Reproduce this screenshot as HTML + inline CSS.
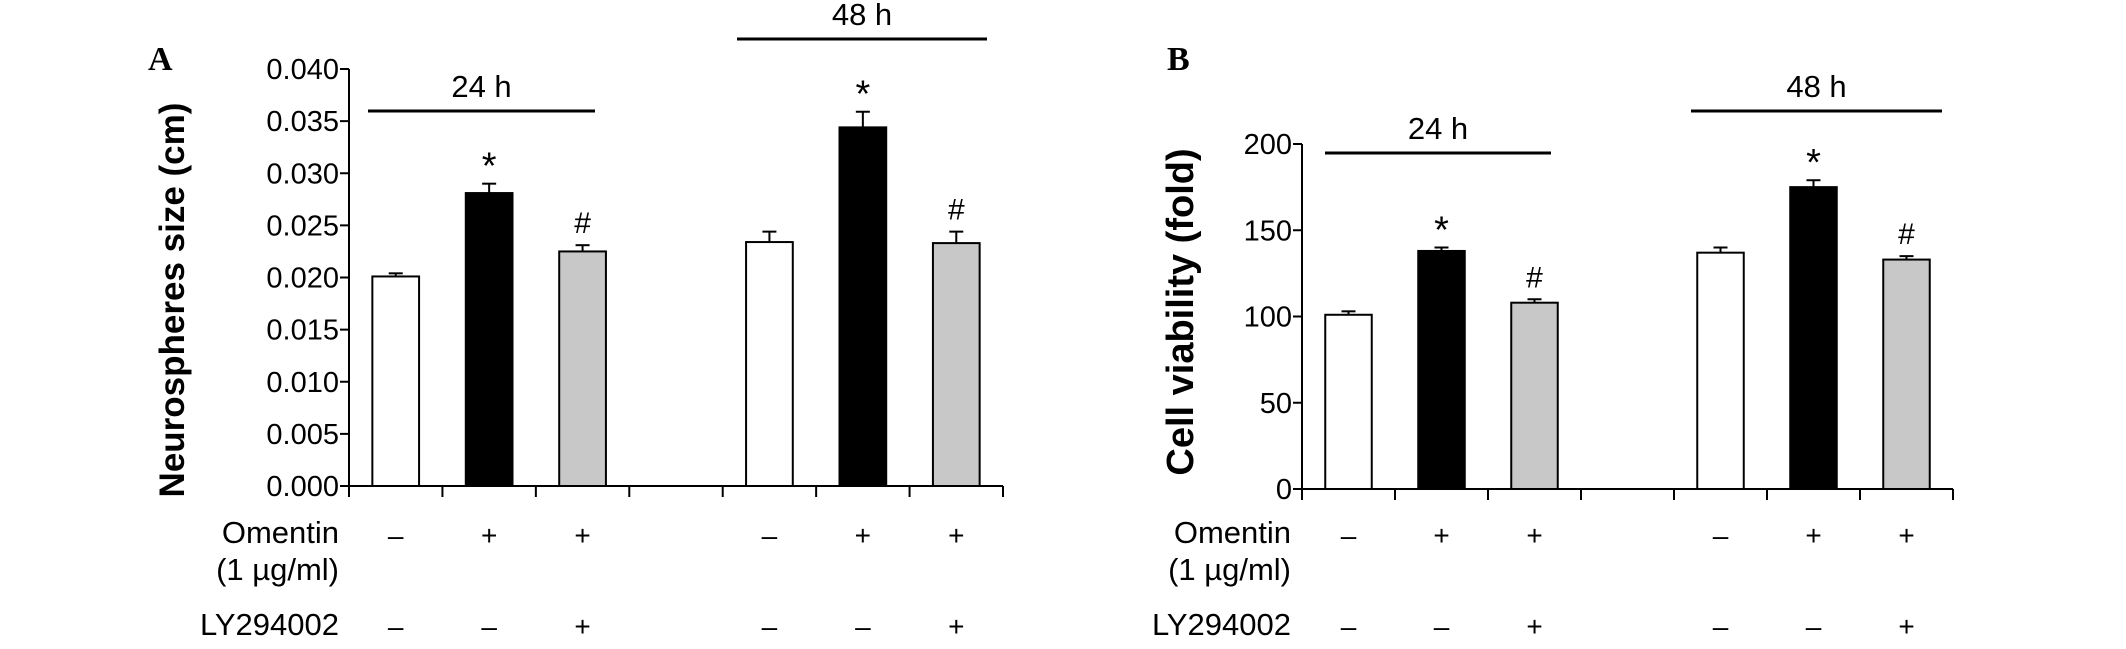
<!DOCTYPE html>
<html><head><meta charset="utf-8"><style>
html,body{margin:0;padding:0;background:#fff;}
svg{display:block;font-family:"Liberation Sans",Arial,sans-serif;}
</style></head><body>
<svg id="fig" width="2126" height="649" viewBox="0 0 2126 649" xmlns="http://www.w3.org/2000/svg"></svg>
<script>
const categories = ["24h-control","24h-omentin","24h-omentin-ly","gap","48h-control","48h-omentin","48h-omentin-ly"];
const valuesA = [0.0201,0.0281,0.0225,null,0.0234,0.0344,0.0233];
const errorsA = [0.0003,0.0009,0.0006,null,0.0010,0.0015,0.0011];
const valuesB = [101,138,108,null,137,175,133];
const errorsB = [2,2,2,null,3,4,2];
const ticksA = [0,0.005,0.010,0.015,0.020,0.025,0.030,0.035,0.040];
const tickLabelsA = ["0.000","0.005","0.010","0.015","0.020","0.025","0.030","0.035","0.040"];
const ticksB = [0,50,100,150,200];
const tickLabelsB = ["0","50","100","150","200"];
const marks = ["","*","#","","","*","#"];
const omentinSigns = ["\u2013","+","+","","\u2013","+","+"];
const lySigns = ["\u2013","\u2013","+","","\u2013","\u2013","+"];
const fills = ["#fff","#000","#c8c8c8",null,"#fff","#000","#c8c8c8"];

const NS="http://www.w3.org/2000/svg";
const svg=document.getElementById('fig');
function mk(tag,attrs,parent){const e=document.createElementNS(NS,tag);for(const k in attrs)e.setAttribute(k,attrs[k]);(parent||svg).appendChild(e);return e;}

function panel(p){
  const g=mk('g',{});
  
  
  const slot=(p.x1-p.x0)/categories.length;
  const xc=i=>p.x0+slot*(i+0.5);
  const y=v=>p.yBase-(v-p.ymin)/(p.ymax-p.ymin)*(p.yBase-p.yTop);
  const L=mk('text',{x:p.letterX,y:70,'font-family':'"Liberation Serif",serif','font-weight':'bold','font-size':34},g);
  L.textContent=p.letter;
  
  
  const T=mk('text',{x:0,y:0,transform:`translate(${p.titleX},${p.titleY}) rotate(-90)`,'text-anchor':'middle','font-weight':'bold','font-size':p.titleSize},g);
  T.textContent=p.title;
  
  
  const ya=mk('line',{x1:p.x0,x2:p.x0,y1:y(p.ymax),y2:p.yBase,stroke:'#000','stroke-width':2},g);
  
  
  p.ticks.forEach((t,i)=>{
    const tl=mk('line',{x1:p.x0-9,x2:p.x0,y1:y(t),y2:y(t),stroke:'#000','stroke-width':2},g);
    
    
    const tx=mk('text',{x:p.x0-10,y:y(t)+10,'text-anchor':'end','font-size':29},g);
    tx.textContent=p.tickLabels[i];
    
    
  });
  const xa=mk('line',{x1:p.x0,x2:p.x1,y1:p.yBase,y2:p.yBase,stroke:'#000','stroke-width':2},g);
  
  
  for(let i=0;i<=categories.length;i++){
    const xt=mk('line',{x1:p.x0+slot*i,x2:p.x0+slot*i,y1:p.yBase,y2:p.yBase+11,stroke:'#000','stroke-width':2},g);
    
    
  }
  const bw=slot*0.5;
  categories.forEach((c,i)=>{
    const v=p.values[i];
    const lab1=mk('text',{x:xc(i),y:545,'text-anchor':'middle','font-size':28},g);
    lab1.textContent=omentinSigns[i];
    
    
    const lab2=mk('text',{x:xc(i),y:636,'text-anchor':'middle','font-size':28},g);
    lab2.textContent=lySigns[i];
    
    
    if(v===null)return;
    const e=p.errors[i];
    const el=mk('line',{x1:xc(i),x2:xc(i),y1:y(v),y2:y(v+e),stroke:'#000','stroke-width':2},g);
    
    
    const ec=mk('line',{x1:xc(i)-7,x2:xc(i)+7,y1:y(v+e),y2:y(v+e),stroke:'#000','stroke-width':2},g);
    
    
    const r=mk('rect',{x:xc(i)-bw/2,y:y(v),width:bw,height:p.yBase-y(v),fill:fills[i],stroke:'#000','stroke-width':2},g);
    
    
    if(marks[i]){
      const m=mk('text',{x:xc(i),y:y(v+e)-(marks[i]==='*'?5:12),'text-anchor':'middle','font-size':marks[i]==='*'?38:30},g);
      m.textContent=marks[i];
      
      
    }
  });
  p.headers.forEach(h=>{
    const hl=mk('line',{x1:h.x1,x2:h.x2,y1:h.y,y2:h.y,stroke:'#000','stroke-width':3},g);
    
    
    const ht=mk('text',{x:(h.x1+h.x2)/2,y:h.y-14,'text-anchor':'middle','font-size':31},g);
    ht.textContent=h.label;
    
    
  });
  [["Omentin",543],["(1 \u00b5g/ml)",580],["LY294002",635]].forEach(([t,yy])=>{
    const rl=mk('text',{x:p.rowX,y:yy,'text-anchor':'end','font-size':31},g);
    rl.textContent=t;
    
    
  });
}

panel({name:'panel-a',letter:'A',letterX:148,title:'Neurospheres size (cm)',titleX:184,titleY:300,titleSize:35,
  x0:349,x1:1003,yBase:486,yTop:69,ymin:0,ymax:0.040,values:valuesA,errors:errorsA,ticks:ticksA,tickLabels:tickLabelsA,
  rowX:339,headers:[{x1:368,x2:595,y:111,label:'24 h'},{x1:737,x2:987,y:39,label:'48 h'}]});
panel({name:'panel-b',letter:'B',letterX:1167,title:'Cell viability (fold)',titleX:1193,titleY:312,titleSize:38,
  x0:1302,x1:1953,yBase:489,yTop:144,ymin:0,ymax:200,values:valuesB,errors:errorsB,ticks:ticksB,tickLabels:tickLabelsB,
  rowX:1291,headers:[{x1:1325,x2:1551,y:153,label:'24 h'},{x1:1691,x2:1942,y:111,label:'48 h'}]});
</script>
</body></html>
